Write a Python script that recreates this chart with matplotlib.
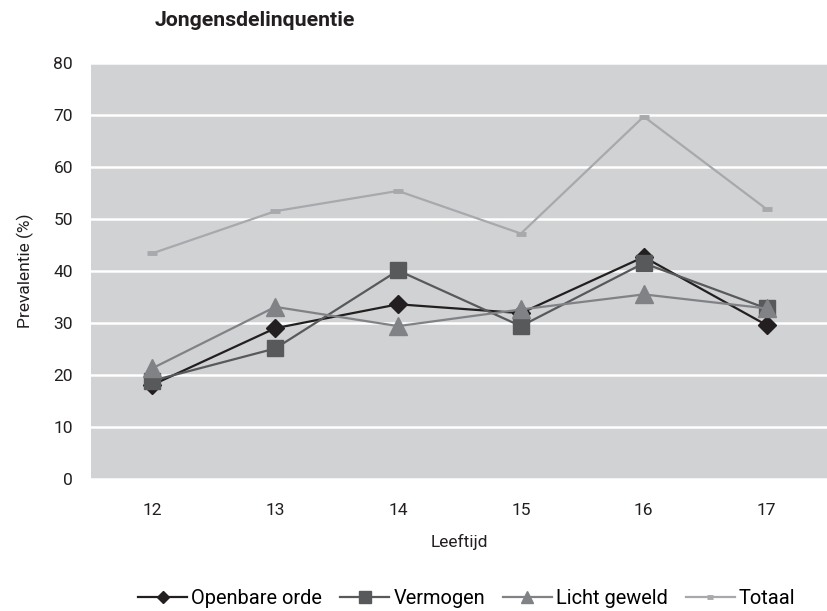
import matplotlib.pyplot as plt

plt.rcParams['font.family'] = ['Roboto', 'DejaVu Sans']

# data
leeftijd = ['12', '13', '14', '15', '16', '17']
openbare_orde = [18.1, 29.0, 33.6, 31.9, 42.7, 29.6]
vermogen = [18.9, 25.1, 40.1, 29.4, 41.5, 32.8]
licht_geweld = [21.3, 33.1, 29.4, 32.6, 35.5, 32.8]
totaal = [43.4, 51.5, 55.4, 47.2, 69.7, 51.9]

fig = plt.figure(figsize=(8.28, 6.11), dpi=100)
ax = fig.add_axes([91/828, 1 - 479/611, 737/828, 416/611])
ax.set_facecolor('#d1d2d4')

x = range(len(leeftijd))
# drawn in series order, later series on top (like the original)
ax.plot(x, openbare_orde, color='#231f20', lw=1.6, marker='D', ms=9, label='Openbare orde', zorder=2)
ax.plot(x, vermogen, color='#58595b', lw=1.6, marker='s', ms=12, label='Vermogen', zorder=3)
ax.plot(x, licht_geweld, color='#808285', lw=1.6, marker='^', ms=13, label='Licht geweld', zorder=4)
ax.plot(x, totaal, color='#a7a9ac', lw=1.6, marker='_', ms=7, mew=3.5, label='Totaal', zorder=5)

ax.set_xlim(-0.5, 5.5)
ax.set_ylim(0, 80)
ax.set_xticks(list(x))
ax.set_xticklabels(leeftijd)
ax.set_yticks(range(0, 81, 10))
ax.yaxis.grid(True, color='white', lw=1.8)
ax.set_axisbelow(True)
for s in ax.spines.values():
    s.set_visible(False)
ax.tick_params(length=0, labelsize=12.5, colors='#231f20')
ax.tick_params(axis='x', pad=17)
ax.tick_params(axis='y', pad=13)

ax.set_xlabel('Leeftijd', fontsize=12.5, color='#231f20', labelpad=12)
ax.set_ylabel('Prevalentie (%)', fontsize=12.5, color='#231f20', labelpad=14)

fig.text(155/828, 1 - 20/611, 'Jongensdelinquentie', fontsize=15.3, fontweight='bold',
         color='#231f20', va='center', ha='left')

ax.legend(loc='center', bbox_to_anchor=(0.51, 1 - (598 - 63)/416), ncol=4, frameon=False,
          fontsize=14.4, handlelength=2.45, handletextpad=0.2, columnspacing=0.9,
          markerscale=0.7, borderaxespad=0, borderpad=0)

fig.savefig('out.png', dpi=100)
